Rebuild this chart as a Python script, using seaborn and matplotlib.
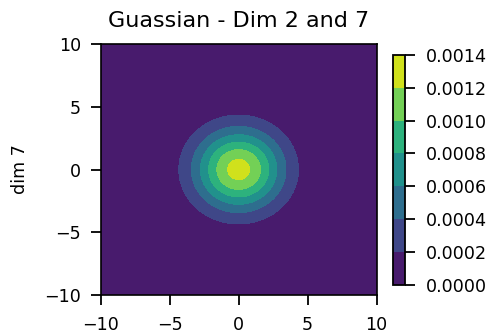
import numpy as np
import matplotlib
matplotlib.use("Agg")
import matplotlib.pyplot as plt
import seaborn as sns

# Gaussian parameters (dims 2 and 7)
mean_dim2 = 0.0
mean_dim7 = 0.0
sigma_dim2 = 2.25
sigma_dim7 = 2.25
peak_value = 0.00128

x_limits = [-10, 10]
y_limits = [-10, 10]
levels = [0.0, 0.0002, 0.0004, 0.0006, 0.0008, 0.0010, 0.0012, 0.0014]
tick_values = [-10, -5, 0, 5, 10]
cbar_labels = ["0.0000", "0.0002", "0.0004", "0.0006", "0.0008", "0.0010", "0.0012", "0.0014"]
title = "Guassian - Dim 2 and 7"
ylabel = "dim 7"

sns.set_theme(style="ticks", rc={
    "axes.edgecolor": "black", "text.color": "black", "axes.labelcolor": "black",
    "xtick.color": "black", "ytick.color": "black", "axes.linewidth": 1.2,
})
plt.rcParams["font.family"] = ["DejaVu Sans"]

grid_x = np.linspace(x_limits[0], x_limits[1], 100)
grid_y = np.linspace(y_limits[0], y_limits[1], 100)
X, Y = np.meshgrid(grid_x, grid_y)
Z = peak_value * np.exp(-0.5 * (((X - mean_dim2) / sigma_dim2) ** 2 + ((Y - mean_dim7) / sigma_dim7) ** 2))

fig = plt.figure(figsize=(4.91, 3.35), dpi=100)
ax = fig.add_axes([0.205, 0.119, 0.562, 0.750])
cax = fig.add_axes([0.800, 0.150, 0.0245, 0.686])

cmap = sns.color_palette("viridis", as_cmap=True)
cs = ax.contourf(X, Y, Z, levels=levels, cmap=cmap)
ax.set_xlim(x_limits)
ax.set_ylim(y_limits)
ax.set_xticks(tick_values)
ax.set_yticks(tick_values)
ax.tick_params(axis="x", labelsize=12.6, length=7, width=1.3, pad=8)
ax.tick_params(axis="y", labelsize=12.6, length=7, width=1.3, pad=7)
ax.set_title(title, fontsize=16, pad=12)
ax.set_ylabel(ylabel, fontsize=12.6, labelpad=11)

cb = fig.colorbar(cs, cax=cax)
cb.set_ticks(levels)
cb.set_ticklabels(cbar_labels)
cb.ax.tick_params(labelsize=12.6, length=7, width=1.3, pad=8)
cb.outline.set_linewidth(1.3)

fig.savefig("out.png", dpi=100)
